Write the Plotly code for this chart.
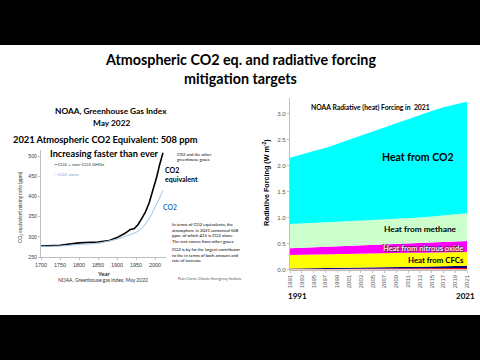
import plotly.graph_objects as go

W, H = 480, 360

# ---------------- Left chart data (NOAA CO2 equivalent) ----------------
eq_years = [1700, 1750, 1800, 1850, 1880, 1900, 1920, 1935, 1945, 1955, 1965, 1975, 1985, 1995, 2005, 2012, 2021]
co2eq_ppm = [277, 279, 285, 287, 291, 298, 308, 318, 320, 330, 345, 362, 385, 415, 450, 478, 508]
co2_years = [1700, 1750, 1800, 1850, 1900, 1920, 1940, 1950, 1960, 1970, 1980, 1990, 2000, 2010, 2021]
co2_ppm = [276, 277, 281, 284, 294, 300, 307, 311, 317, 326, 338, 354, 372, 392, 415]
left_xticks = [1700, 1750, 1800, 1850, 1900, 1950, 2000]
left_yticks = [250, 300, 350, 400, 450, 500]

# ---------------- Right chart data (radiative forcing, cumulative tops) ----------------
rf_years = [1991, 1993, 1995, 1997, 1999, 2001, 2003, 2005, 2007, 2009, 2011, 2013, 2015, 2017, 2019, 2021]
top_other = [0.005, 0.007, 0.009, 0.011, 0.013, 0.015, 0.017, 0.019, 0.021, 0.023, 0.025, 0.026, 0.027, 0.028, 0.029, 0.030]
top_hfc = [0.020, 0.022, 0.025, 0.028, 0.031, 0.034, 0.037, 0.040, 0.043, 0.047, 0.051, 0.055, 0.059, 0.063, 0.067, 0.070]
top_cfc = [0.280, 0.285, 0.290, 0.295, 0.300, 0.305, 0.310, 0.310, 0.315, 0.315, 0.320, 0.320, 0.325, 0.330, 0.330, 0.335]
top_n2o = [0.410, 0.420, 0.430, 0.440, 0.450, 0.460, 0.470, 0.480, 0.490, 0.500, 0.510, 0.515, 0.525, 0.535, 0.545, 0.550]
top_ch4 = [0.875, 0.890, 0.900, 0.910, 0.920, 0.930, 0.940, 0.950, 0.960, 0.970, 0.985, 1.000, 1.020, 1.040, 1.060, 1.080]
top_co2 = [2.15, 2.22, 2.28, 2.34, 2.42, 2.50, 2.58, 2.66, 2.74, 2.82, 2.90, 2.98, 3.05, 3.12, 3.18, 3.23]
right_yticks = [0.0, 0.5, 1.0, 1.5, 2.0, 2.5, 3.0]

layer_tops = [top_other, top_hfc, top_cfc, top_n2o, top_ch4, top_co2]
layer_colors = ["#FF0000", "#000080", "#FFFF00", "#FF00FF", "#CCFFCC", "#00FFFF"]

TXT = "Lato, 'Open Sans', sans-serif"
TICK = "'Liberation Sans', Arial, sans-serif"

fig = go.Figure()

# Left chart lines
fig.add_trace(go.Scatter(x=eq_years, y=co2eq_ppm, mode="lines", line=dict(color="black", width=1.6),
                         xaxis="x", yaxis="y", showlegend=False, hoverinfo="skip"))
fig.add_trace(go.Scatter(x=co2_years, y=co2_ppm, mode="lines", line=dict(color="#9DC3E6", width=1),
                         xaxis="x", yaxis="y", showlegend=False, hoverinfo="skip"))

# Right chart stacked areas
for i, (tops, col) in enumerate(zip(layer_tops, layer_colors)):
    fig.add_trace(go.Scatter(x=rf_years, y=tops, mode="lines", line=dict(width=0, color=col),
                             fill="tozeroy" if i == 0 else "tonexty", fillcolor=col,
                             xaxis="x2", yaxis="y2", showlegend=False, hoverinfo="skip"))


def px(x):
    return x / W


def py(y):
    return 1 - y / H


annotations = []


def ann(text, x, y, size, color="black", xanchor="center", family=TXT, angle=0, align="center", shadow=None):
    f = dict(size=size, color=color, family=family)
    if shadow:
        f["shadow"] = shadow
    annotations.append(dict(text=text, x=px(x), y=py(y), xref="paper", yref="paper", showarrow=False,
                            xanchor=xanchor, yanchor="middle", font=f, textangle=angle, align=align))


# Main title
ann("<b>Atmospheric CO2 eq. and radiative forcing</b>", 240, 60, 14.3)
ann("<b>mitigation targets</b>", 240, 78, 14.3)

# Left chart texts
ann("<b>NOAA, Greenhouse Gas Index</b>", 111, 111, 8.3)
ann("<b>May 2022</b>", 111, 123, 8.3)
ann("<b>2021 Atmospheric CO2 Equivalent: 508 ppm</b>", 105, 139, 9.3)
ann("<b>Increasing faster than ever</b>", 104, 153, 9.2)
ann("<b>—</b>CO2 + non-CO2 GHGs", 52, 164, 4.6, color="#333333", xanchor="left")
ann("—CO2 alone", 52, 174, 4.6, color="#7FA7D0", xanchor="left")
ann("CO2 and the other<br>greenhouse gases", 175, 156.5, 4.2, xanchor="left", align="left")
ann("<b>CO2</b><br><b>equivalent</b>", 163, 174, 7, xanchor="left", align="left")
ann("<b>CO2</b>", 161, 207, 6.8, color="#2F75B5", xanchor="left")
ann("In terms of CO2 equivalents, the<br>atmosphere in 2021 contained 508<br>ppm, of which 415 is CO2 alone.<br>The rest comes from other gases.",
    170, 233, 4.3, xanchor="left", align="left")
ann("CO2 is by far the largest contributor<br>to the in terms of both amount and<br>rate of increase", 170, 254.5, 4.3,
    xanchor="left", align="left")
ann("CO<sub>2</sub> equivalent mixing ratio (ppm)", 21, 207, 4.8, color="#333333", angle=-90)
ann("<b>Year</b>", 103, 273, 6, color="#333333")
ann("NOAA, Greenhouse gas index, May 2022", 103, 280, 5, color="#333333")
ann("Peter Carter, Climate Emergency Institute", 210, 279, 3.5, color="#555555")

# Right chart texts
ann("<b>NOAA Radiative (heat) Forcing in  2021</b>", 370, 107, 6.8)
ann("<b>Heat from CO2</b>", 418, 157, 10.5)
ann("<b>Heat from methane</b>", 420, 229, 8.3)
ann("<b>Heat from nitrous oxide</b>", 423, 248, 7.6, color="#FFE6F5", shadow="0.7px 0.7px 0.6px #333, -0.7px -0.7px 0.6px #333")
ann("<b>Heat from CFCs</b>", 436, 260, 7.8)
ann("<b>Radiative Forcing (W m<sup>-2</sup>)</b>", 266, 183, 7.2, family=TICK, angle=-90)
ann("<b>1991</b>", 297, 296, 8)
ann("<b>2021</b>", 465, 296, 8)

axis_common = dict(showgrid=False, zeroline=False, showline=True, linecolor="#BFBFBF", linewidth=1,
                   ticks="outside", ticklen=2, tickcolor="#BFBFBF", automargin=False)

fig.update_layout(
    template="none",
    width=W, height=H, margin=dict(l=0, r=0, t=0, b=0, pad=0),
    paper_bgcolor="white", plot_bgcolor="white",
    xaxis=dict(domain=[41 / W, (41 + 330 * 0.38) / W], range=[1700, 2030], anchor="y",
               tickvals=left_xticks, tickfont=dict(size=5.5, color="#404040", family=TICK), **axis_common),
    yaxis=dict(domain=[1 - 257 / H, 1 - 150 / H], range=[250, 515], anchor="x",
               tickvals=left_yticks, tickfont=dict(size=5.2, color="#404040", family=TICK), **axis_common),
    xaxis2=dict(domain=[290 / W, 467 / W], range=[1991, 2021], anchor="y2",
                tickvals=rf_years, tickangle=-90, tickfont=dict(size=6, color="#595959", family=TICK),
                **axis_common),
    yaxis2=dict(domain=[1 - 269.5 / H, 1 - 98 / H], range=[0, 3.3], anchor="x2",
                tickvals=right_yticks, tickformat=".1f", tickfont=dict(size=6.2, color="#595959", family=TICK),
                **axis_common),
    annotations=annotations,
    shapes=[
        dict(type="rect", xref="paper", yref="paper", x0=0, x1=1, y0=py(45), y1=1,
             fillcolor="black", line=dict(width=0), layer="above"),
        dict(type="rect", xref="paper", yref="paper", x0=0, x1=1, y0=0, y1=py(315),
             fillcolor="black", line=dict(width=0), layer="above"),
    ],
)

fig.write_html("out.html", config={"displayModeBar": False, "staticPlot": True},
               post_script="document.body.style.margin='0';document.body.style.padding='0';"
                           "document.body.style.background='black';"
                           "document.documentElement.style.background='black';"
                           "document.body.style.overflow='hidden';document.documentElement.style.overflow='hidden';")
